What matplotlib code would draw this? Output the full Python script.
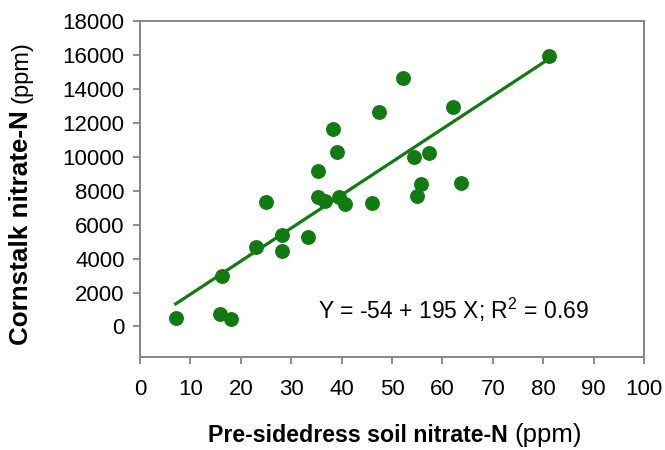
import numpy as np
import matplotlib.pyplot as plt

plt.rcParams['font.family'] = ['Liberation Sans', 'DejaVu Sans']
plt.rcParams['mathtext.fontset'] = 'custom'
plt.rcParams['mathtext.rm'] = 'Liberation Sans'
plt.rcParams['mathtext.it'] = 'Liberation Sans'

# ============================================================
# DATA
# ============================================================

soil_n = [7.1, 16.2, 15.9, 18.1, 23.0, 28.2, 28.2, 33.3, 25.1, 35.4, 38.2, 39.0, 35.4,
          36.7, 39.5, 40.7, 47.5, 52.2, 62.2, 81.2, 54.4, 57.3, 55.7, 55.0, 63.6, 46.0]
stalk_n = [470, 3000, 750, 450, 4690, 5410, 4430, 5250, 7350, 9180, 11630, 10280, 7630,
           7410, 7630, 7240, 12610, 14670, 12920, 15940, 9980, 10200, 8390, 7700, 8430, 7280]

fit_intercept = -54
fit_slope = 195
fit_text = 'Y = -54 + 195 X; R$^\\mathregular{2}$ = 0.69'

x_ticks = list(range(0, 101, 10))
y_ticks = list(range(0, 18001, 2000))

GREEN = '#137a13'
SPINE = '#858585'

# ============================================================
# PLOT
# ============================================================

fig = plt.figure(figsize=(6.65, 4.5), dpi=100)
ax = fig.add_axes([0.2105, 0.2067, 0.7579, 0.7466])

ax.scatter(soil_n, stalk_n, s=115, color=GREEN, zorder=3, linewidths=0)

xl = np.array([min(soil_n), max(soil_n)])
ax.plot(xl, fit_intercept + fit_slope * xl, color=GREEN, lw=2.3, zorder=2)

ax.set_xlim(0, 100)
ax.set_ylim(-1800, 18000)
ax.set_xticks(x_ticks)
ax.set_yticks(y_ticks)
ax.tick_params(direction='out', length=5, width=1.3, color=SPINE,
               labelsize=16, labelcolor='black', pad=6)
ax.tick_params(axis='x', pad=11)
for sp in ax.spines.values():
    sp.set_color(SPINE)
    sp.set_linewidth(1.4)

ax.text(35.4, 1000, fit_text, fontsize=16.5, va='center', ha='left')

# axis labels: bold part + regular "(ppm)"
fig.canvas.draw()
r = fig.canvas.get_renderer()

base_y = 1 - 442 / 450
xb = fig.text(208 / 665, base_y, 'Pre-sidedress soil nitrate-N',
              fontsize=16.7, fontweight='bold', va='baseline', ha='left')
wb = xb.get_window_extent(r).width
fig.text((208 + wb + 7) / 665, base_y, '(ppm)', fontsize=18.5, va='baseline', ha='left')

base_x = 28 / 665
yb = fig.text(base_x, 1 - 345 / 450, 'Cornstalk nitrate-N', fontsize=18.7,
              fontweight='bold', rotation=90, rotation_mode='anchor',
              va='baseline', ha='left')
hb = yb.get_window_extent(r).height
fig.text(base_x, 1 - (345 - hb - 7) / 450, '(ppm)', fontsize=17, rotation=90,
         rotation_mode='anchor', va='baseline', ha='left')

fig.savefig('out.png', dpi=100, facecolor='white')
